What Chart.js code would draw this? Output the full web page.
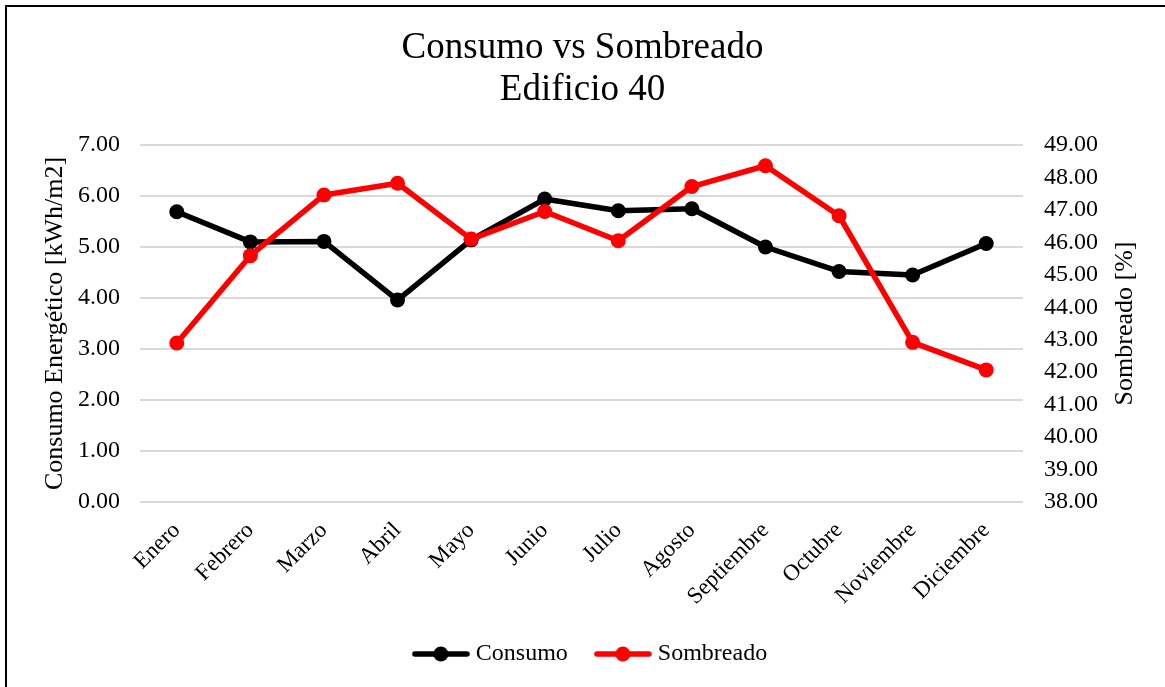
<!DOCTYPE html>
<html>
<head>
<meta charset="utf-8">
<script src="https://cdn.jsdelivr.net/npm/chart.js@4.4.1/dist/chart.umd.min.js"></script>
<style>
  html, body { margin: 0; padding: 0; background: #fff; overflow: hidden; }
  #wrap { position: relative; width: 1165px; height: 687px; }
  #frame { position: absolute; left: 5px; top: 5px; width: 1200px; height: 720px;
           border: 2px solid #000; box-sizing: border-box; pointer-events: none; }
  canvas { position: absolute; left: 0; top: 0; }
</style>
</head>
<body>
<div id="wrap">
  <canvas id="c" width="1165" height="687"></canvas>
  <div id="frame"></div>
</div>
<script>
// Monthly energy use (kWh/m2) and shading (%) for Edificio 40
const meses = ['Enero', 'Febrero', 'Marzo', 'Abril', 'Mayo', 'Junio', 'Julio',
               'Agosto', 'Septiembre', 'Octubre', 'Noviembre', 'Diciembre'];
const consumo = [5.69, 5.10, 5.11, 3.96, 5.14, 5.94, 5.71, 5.75, 5.00, 4.52, 4.45, 5.07];
const sombreado = [42.90, 45.59, 47.46, 47.82, 46.10, 46.95, 46.05, 47.72, 48.36, 46.82, 42.92, 42.07];
const consumoEje = { min: 0, max: 7, paso: 1 };
const sombreadoEje = { min: 38, max: 49, paso: 1 };

const SERIF = '"Liberation Serif", "Times New Roman", serif';
const NEGRO = '#000000';
const ROJO = '#ff0000';

// Legend swatch: a short line with a dot in the middle
function muestra(color) {
  const c = document.createElement('canvas');
  c.width = 58; c.height = 18;
  const g = c.getContext('2d');
  g.strokeStyle = color; g.lineWidth = 5.5; g.lineCap = 'round';
  g.beginPath(); g.moveTo(3, 9); g.lineTo(55, 9); g.stroke();
  g.fillStyle = color;
  g.beginPath(); g.arc(29, 9, 7.5, 0, Math.PI * 2); g.fill();
  return c;
}

// Right-hand axis title, reading bottom to top like the left one
const tituloDerecho = {
  id: 'tituloDerecho',
  afterDraw(chart) {
    const s = chart.scales.y2;
    const a = chart.chartArea;
    const ctx = chart.ctx;
    ctx.save();
    ctx.translate(s.right - 40, (a.top + a.bottom) / 2);
    ctx.rotate(-Math.PI / 2);
    ctx.font = '26px ' + SERIF;
    ctx.fillStyle = NEGRO;
    ctx.textAlign = 'center';
    ctx.textBaseline = 'middle';
    ctx.fillText('Sombreado [%]', 0, 0);
    ctx.restore();
  }
};

// Nudge the legend row a little to the right of centre
const legendaDesplazada = {
  id: 'legendaDesplazada',
  afterLayout(chart) {
    const l = chart.legend;
    if (l) { l.left += 10; l.right += 10; }
  }
};

const serie = (label, data, color, eje, orden) => ({
  label, data, yAxisID: eje, order: orden,
  borderColor: color, backgroundColor: color,
  borderWidth: 5.5, tension: 0,
  borderCapStyle: 'round', borderJoinStyle: 'round',
  pointRadius: 7.5, pointHoverRadius: 7.5,
  pointBorderWidth: 0, pointBackgroundColor: color
});

new Chart(document.getElementById('c'), {
  type: 'line',
  data: {
    labels: meses,
    datasets: [
      serie('Consumo', consumo, NEGRO, 'y', 2),
      serie('Sombreado', sombreado, ROJO, 'y2', 1)
    ]
  },
  options: {
    responsive: false,
    animation: false,
    layout: { padding: { left: 0, right: 0, top: 0, bottom: 11 } },
    plugins: {
      tooltip: { enabled: false },
      title: {
        display: true,
        text: ['Consumo vs Sombreado', 'Edificio 40'],
        color: NEGRO,
        font: { family: SERIF, size: 37, weight: 'normal', lineHeight: 42 / 37 },
        padding: { top: 27.3, bottom: 33.7 }
      },
      legend: {
        position: 'bottom',
        labels: {
          usePointStyle: true,
          pointStyleWidth: 46,
          padding: 32,
          color: NEGRO,
          font: { family: SERIF, size: 24 },
          generateLabels: () => [
            { text: 'Consumo', pointStyle: muestra(NEGRO), datasetIndex: 0,
              fillStyle: NEGRO, strokeStyle: NEGRO, lineWidth: 0, hidden: false, fontColor: NEGRO },
            { text: 'Sombreado', pointStyle: muestra(ROJO), datasetIndex: 1,
              fillStyle: ROJO, strokeStyle: ROJO, lineWidth: 0, hidden: false, fontColor: NEGRO }
          ]
        }
      }
    },
    scales: {
      x: {
        offset: true,
        grid: { display: false, drawTicks: false },
        border: { display: false },
        ticks: {
          color: NEGRO, padding: 15,
          maxRotation: 45, minRotation: 45,
          font: { family: SERIF, size: 23 }
        },
        afterFit(s) { s.height = 108; }
      },
      y: {
        position: 'left',
        min: consumoEje.min, max: consumoEje.max,
        grid: { color: '#d9d9d9', lineWidth: 2, drawTicks: false },
        border: { display: false },
        ticks: {
          stepSize: consumoEje.paso, padding: 20, color: NEGRO,
          font: { family: SERIF, size: 24 },
          callback: v => Number(v).toFixed(2)
        },
        title: {
          display: true, text: 'Consumo Energético [kWh/m2]', color: NEGRO,
          font: { family: SERIF, size: 26 }, padding: { top: 40, bottom: 0 }
        },
        afterFit(s) { s.width = 140; }
      },
      y2: {
        position: 'right',
        min: sombreadoEje.min, max: sombreadoEje.max,
        grid: { display: false, drawTicks: false },
        border: { display: false },
        ticks: {
          stepSize: sombreadoEje.paso, padding: 21, color: NEGRO,
          font: { family: SERIF, size: 24 },
          callback: v => Number(v).toFixed(2)
        },
        afterFit(s) { s.width = 142; }
      }
    }
  },
  plugins: [tituloDerecho, legendaDesplazada]
});
</script>
</body>
</html>
